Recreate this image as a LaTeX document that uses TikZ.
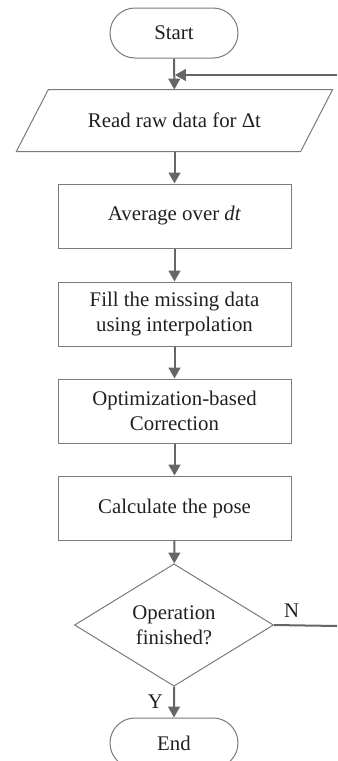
\documentclass[tikz,border=0pt]{standalone}
\usepackage{fontspec}
\setmainfont{Liberation Serif}
\usepackage{xcolor}
\usepackage{tikz}
\usetikzlibrary{arrows.meta,shapes.geometric,shapes.misc,positioning}
\definecolor{ink}{HTML}{231F20}
\definecolor{edge}{HTML}{7A7A7A}
\definecolor{wire}{HTML}{666666}
\tikzset{
  base/.style={draw=edge, line width=0.6pt, text=ink, align=center, inner sep=0pt,
    font=\fontsize{12.5}{15}\selectfont},
  term/.style={base, rounded rectangle, minimum width=76.8pt, minimum height=30pt},
  io/.style={base, draw=none, rectangle, minimum width=170pt, minimum height=36.6pt},
  ioline/.style={draw=edge, line width=0.6pt, line join=miter},
  proc/.style={base, rectangle, minimum width=139.8pt, minimum height=38.4pt},
  decide/.style={base, diamond, minimum width=119.4pt, minimum height=57.6pt},
  flow/.style={draw=wire, line width=1.2pt, -{Triangle[length=6.5pt,width=7pt]}},
  wireonly/.style={draw=wire, line width=1.2pt},
  lab/.style={text=ink, font=\fontsize{12.5}{15}\selectfont, inner sep=1pt},
}
\begin{document}
\begin{tikzpicture}[x=0.6pt, y=-0.6pt]
\useasboundingbox (0,0) rectangle (337,761);
\clip (0,0) rectangle (337,761);
% chart
\node[term]   (start) at (174,33)  {Start};
\node[io]     (read)  at (174.5,120.5) {Read raw data for Δt};
\node[proc]   (avg)   at (174.5,216) {Average over \textit{dt}};
\node[proc]   (fill)  at (174.5,314) {Fill the missing data\\using interpolation};
\node[proc]   (opt)   at (174.5,411) {Optimization-based\\Correction};
\node[proc]   (pose)  at (174.5,508) {Calculate the pose};
\node[decide] (done)  at (174,625) {Operation\\finished?};
\node[term]   (stop)  at (174,743) {End};
% slanted input box
\draw[ioline] ([xshift=9.6pt]read.north west) -- ([xshift=9.6pt]read.north east)
  -- ([xshift=-9.6pt]read.south east) -- ([xshift=-9.6pt]read.south west) -- cycle;
% loop ends at the page edge
\coordinate (back) at (337,75);
\coordinate (out)  at (337,626);
\draw[flow] (start) -- (read);
\draw[flow] (read) -- (avg);
\draw[flow] (avg) -- (fill);
\draw[flow] (fill) -- (opt);
\draw[flow] (opt) -- (pose);
\draw[flow] (pose) -- (done);
\draw[flow] (done) -- node[lab, left=5pt] {Y} (stop);
\draw[wireonly] (done.east) -- node[lab, above=3pt, pos=0.28] {N} (out);
\draw[flow] (back) -- ([xshift=0.6pt]start.south |- back);
\end{tikzpicture}
\end{document}
